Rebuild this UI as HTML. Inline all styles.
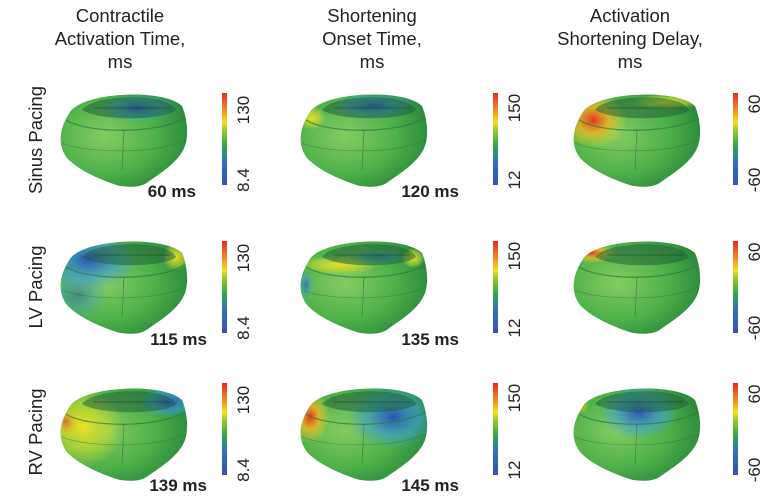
<!DOCTYPE html>
<html><head><meta charset="utf-8"><style>
html,body{margin:0;padding:0;background:#fff;}
svg{display:block;font-family:"Liberation Sans",Arial,sans-serif;}
</style></head><body>
<svg width="781" height="500" viewBox="0 0 781 500">
<defs>
<linearGradient id="cb" x1="0" y1="1" x2="0" y2="0">
<stop offset="0" stop-color="#3a4fb0"/><stop offset="0.25" stop-color="#2f6fc0"/><stop offset="0.42" stop-color="#2aa648"/><stop offset="0.6" stop-color="#9ccc2a"/><stop offset="0.68" stop-color="#f2e21c"/><stop offset="0.82" stop-color="#f08a24"/><stop offset="1" stop-color="#e42a22"/>
</linearGradient>
<radialGradient id="body" cx="0.35" cy="0.45" r="0.75">
<stop offset="0" stop-color="#86cc62"/><stop offset="0.55" stop-color="#4caf48"/><stop offset="1" stop-color="#23803a"/>
</radialGradient>
<radialGradient id="blue" cx="0.5" cy="0.5" r="0.5"><stop offset="0" stop-color="#2b4fc0" stop-opacity="0.95"/><stop offset="0.6" stop-color="#3a9fd8" stop-opacity="0.6"/><stop offset="1" stop-color="#3a9fd8" stop-opacity="0"/></radialGradient>
<radialGradient id="yel" cx="0.5" cy="0.5" r="0.5"><stop offset="0" stop-color="#f4e020" stop-opacity="0.95"/><stop offset="0.6" stop-color="#c8dc30" stop-opacity="0.6"/><stop offset="1" stop-color="#c8dc30" stop-opacity="0"/></radialGradient>
<radialGradient id="red" cx="0.5" cy="0.5" r="0.5"><stop offset="0" stop-color="#e83020" stop-opacity="0.95"/><stop offset="0.45" stop-color="#f4b020" stop-opacity="0.8"/><stop offset="1" stop-color="#f4e020" stop-opacity="0"/></radialGradient>
<clipPath id="hc"><path d="M12,24 C25,4 105,0 124,18 C129,30 131,46 127,58 C121,74 104,84 90,94 C82,100 72,99 62,98 C42,92 20,82 9,70 C0,58 0,42 12,24 Z"/></clipPath>
<g id="heart">
<path d="M12,24 C25,4 105,0 124,18 C129,30 131,46 127,58 C121,74 104,84 90,94 C82,100 72,99 62,98 C42,92 20,82 9,70 C0,58 0,42 12,24 Z" fill="url(#body)"/>
</g>
<g id="top">
<path d="M24,22 C35,6 110,4 118,22 C108,32 44,34 24,22 Z" fill="#1d5a3a" opacity="0.5"/>
<path d="M36,20 L112,20" stroke="#111" stroke-width="0.8" opacity="0.4"/>
<path d="M8,32 C30,46 100,46 127,30" fill="none" stroke="#2a7a3c" stroke-width="1.2" opacity="0.7"/>
<path d="M4,55 C30,66 100,66 128,52" fill="none" stroke="#2a7a3c" stroke-width="0.8" opacity="0.5"/>
<path d="M66,42 L64,82" stroke="#2a6a4a" stroke-width="0.8" opacity="0.6"/>
</g>
</defs>

<g font-size="18.5" fill="#222" text-anchor="middle">
<text x="120" y="22">Contractile</text>
<text x="120" y="45">Activation Time,</text>
<text x="120" y="68">ms</text>
<text x="372" y="22">Shortening</text>
<text x="372" y="45">Onset Time,</text>
<text x="372" y="68">ms</text>
<text x="630" y="22">Activation</text>
<text x="630" y="45">Shortening Delay,</text>
<text x="630" y="68">ms</text>
</g>

<g font-size="18.5" fill="#222" text-anchor="middle">
<text transform="translate(42,140) rotate(-90)">Sinus Pacing</text>
<text transform="translate(42,287) rotate(-90)">LV Pacing</text>
<text transform="translate(42,432) rotate(-90)">RV Pacing</text>
</g>

<g transform="translate(58,88)">
<use href="#heart"/><g clip-path="url(#hc)"><ellipse cx="80" cy="20" rx="40" ry="14" fill="url(#blue)"/></g><use href="#top"/></g>
<g transform="translate(298,88)">
<use href="#heart"/><g clip-path="url(#hc)"><ellipse cx="75" cy="18" rx="42" ry="13" fill="url(#blue)"/><ellipse cx="14" cy="30" rx="14" ry="12" fill="url(#yel)"/></g><use href="#top"/></g>
<g transform="translate(571,88)">
<use href="#heart"/><g clip-path="url(#hc)"><ellipse cx="22" cy="32" rx="34" ry="28" fill="url(#red)"/><ellipse cx="95" cy="14" rx="35" ry="8" fill="url(#yel)"/></g><use href="#top"/></g>

<g transform="translate(58,235)">
<use href="#heart"/><g clip-path="url(#hc)"><ellipse cx="30" cy="25" rx="50" ry="30" fill="url(#blue)"/><ellipse cx="20" cy="60" rx="30" ry="25" fill="url(#blue)" opacity="0.5"/><ellipse cx="118" cy="22" rx="14" ry="14" fill="url(#yel)"/></g><use href="#top"/></g>
<g transform="translate(298,235)">
<use href="#heart"/><g clip-path="url(#hc)"><ellipse cx="40" cy="30" rx="40" ry="10" fill="url(#yel)"/><ellipse cx="115" cy="23" rx="12" ry="10" fill="url(#yel)"/><ellipse cx="80" cy="22" rx="30" ry="8" fill="url(#blue)" opacity="0.6"/><ellipse cx="8" cy="50" rx="8" ry="14" fill="url(#blue)" opacity="0.7"/></g><use href="#top"/></g>
<g transform="translate(571,235)">
<use href="#heart"/><g clip-path="url(#hc)"><ellipse cx="20" cy="18" rx="26" ry="10" fill="url(#red)"/></g><use href="#top"/></g>

<g transform="translate(58,382)">
<use href="#heart"/><g clip-path="url(#hc)"><ellipse cx="25" cy="45" rx="40" ry="40" fill="url(#yel)"/><ellipse cx="8" cy="40" rx="16" ry="18" fill="url(#red)" opacity="0.6"/><ellipse cx="110" cy="20" rx="30" ry="16" fill="url(#blue)"/></g><use href="#top"/></g>
<g transform="translate(298,382)">
<use href="#heart"/><g clip-path="url(#hc)"><ellipse cx="12" cy="35" rx="20" ry="26" fill="url(#red)"/><ellipse cx="95" cy="35" rx="45" ry="32" fill="url(#blue)"/></g><use href="#top"/></g>
<g transform="translate(571,382)">
<use href="#heart"/><g clip-path="url(#hc)"><ellipse cx="68" cy="30" rx="40" ry="28" fill="url(#blue)"/><ellipse cx="10" cy="22" rx="8" ry="10" fill="url(#red)" opacity="0.7"/></g><use href="#top"/></g>

<g font-size="17" font-weight="bold" fill="#222" text-anchor="end">
<text x="196" y="197">60 ms</text>
<text x="459" y="197">120 ms</text>
<text x="207" y="345">115 ms</text>
<text x="459" y="345">135 ms</text>
<text x="207" y="491">139 ms</text>
<text x="459" y="491">145 ms</text>
</g>

<g>
<rect x="222" y="93" width="5" height="92" fill="url(#cb)"/>
<rect x="493" y="93" width="5" height="92" fill="url(#cb)"/>
<rect x="733" y="93" width="5" height="92" fill="url(#cb)"/>
<rect x="222" y="241" width="5" height="92" fill="url(#cb)"/>
<rect x="493" y="241" width="5" height="92" fill="url(#cb)"/>
<rect x="733" y="241" width="5" height="92" fill="url(#cb)"/>
<rect x="222" y="383" width="5" height="92" fill="url(#cb)"/>
<rect x="493" y="383" width="5" height="92" fill="url(#cb)"/>
<rect x="733" y="383" width="5" height="92" fill="url(#cb)"/>
</g>

<g font-size="17" fill="#222">
<text transform="translate(249,110) rotate(-90)" text-anchor="middle">130</text>
<text transform="translate(249,180) rotate(-90)" text-anchor="middle">8.4</text>
<text transform="translate(520,108) rotate(-90)" text-anchor="middle">150</text>
<text transform="translate(520,180) rotate(-90)" text-anchor="middle">12</text>
<text transform="translate(760,104) rotate(-90)" text-anchor="middle">60</text>
<text transform="translate(760,180) rotate(-90)" text-anchor="middle">-60</text>
<text transform="translate(249,258) rotate(-90)" text-anchor="middle">130</text>
<text transform="translate(249,328) rotate(-90)" text-anchor="middle">8.4</text>
<text transform="translate(520,256) rotate(-90)" text-anchor="middle">150</text>
<text transform="translate(520,328) rotate(-90)" text-anchor="middle">12</text>
<text transform="translate(760,252) rotate(-90)" text-anchor="middle">60</text>
<text transform="translate(760,328) rotate(-90)" text-anchor="middle">-60</text>
<text transform="translate(249,400) rotate(-90)" text-anchor="middle">130</text>
<text transform="translate(249,470) rotate(-90)" text-anchor="middle">8.4</text>
<text transform="translate(520,398) rotate(-90)" text-anchor="middle">150</text>
<text transform="translate(520,470) rotate(-90)" text-anchor="middle">12</text>
<text transform="translate(760,394) rotate(-90)" text-anchor="middle">60</text>
<text transform="translate(760,470) rotate(-90)" text-anchor="middle">-60</text>
</g>
</svg>
</body></html>
